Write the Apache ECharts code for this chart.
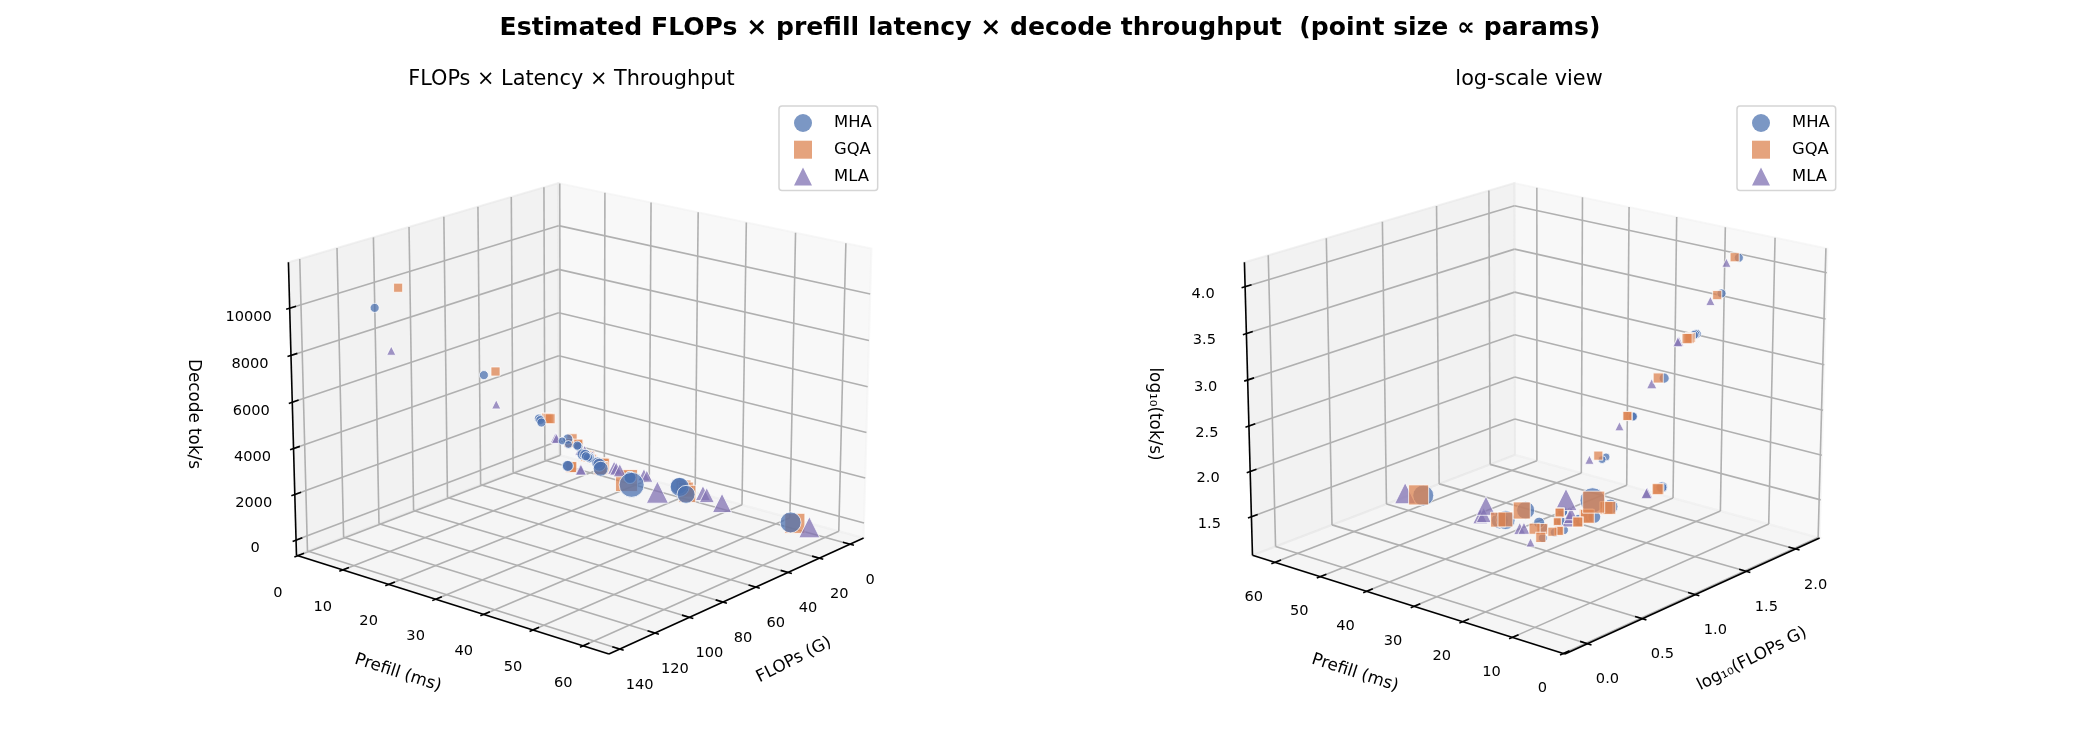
<!DOCTYPE html>
<html><head><meta charset="utf-8">
<style>html,body{margin:0;background:#fff}#c{width:2100px;height:750px}</style>
<script src="https://cdn.jsdelivr.net/npm/echarts@6/dist/echarts.min.js"></script>
</head><body><div id="c"></div>
<script>
// Axis ticks
const flopsTicks=[0,20,40,60,80,100,120,140];
const prefillTicks=[0,10,20,30,40,50,60];
const tokTicks=[0,2000,4000,6000,8000,10000];
const logFlopsTicks=[0,0.5,1,1.5,2];
const logTokTicks=[1.5,2,2.5,3,3.5,4];

// Measurements per attention variant: FLOPs (G), prefill (ms), decode tok/s, params (M)
const flopsMHA=[138.2,72.0,36.2,36.2,36.3,16.2,7.6,7.4,2.4,2.6,15.1,15.0,1.7,1.7,1.7,1.8,1.0,1.0,1.9,1.5,1.1,4.2,5.1,8.5,8.6,8.6,15.2,4.0,4.7,9.9,9.2];
const prefillMHA=[15.0,12.7,11.5,11.8,12.1,10.7,10.0,9.7,4.5,6.0,10.2,10.3,9.6,9.7,10.4,10.5,8.6,9.2,10.5,10.0,9.4,13.1,13.8,15.3,21.7,21.8,24.4,30.8,31.2,34.3,55.8];
const tokMHA=[10570,5900,2930,2880,2790,1400,770,790,580,500,98,97,155,152,116,113,140,154,90,97,101,78,69,66,37,37,43,39,36,29,21];
const paramsMHA=[17,17,17,17,17,21,17,17,13,13,25,25,21,21,21,21,25,25,17,17,17,30,35,46,30,30,129,60,75,67,91];

const flopsGQA=[125.4,65.2,31.5,30.8,30.2,15.2,6.7,6.5,2.4,15.2,15.1,1.7,1.7,1.8,1.8,1.1,1.0,1.8,1.8,1.5,1.1,4.4,4.7,7.7,8.1,7.6,7.6,12.6,4.3,5.5,9.1,9.0];
const prefillGQA=[15.0,12.7,11.5,11.6,11.8,11.3,9.8,9.6,6.0,11.0,11.1,10.2,10.3,11.2,11.3,9.5,10.1,10.9,11.0,10.5,9.8,14.0,14.4,15.2,15.1,20.8,20.9,22.4,31.9,32.8,34.3,56.6];
const tokGQA=[11100,5880,2830,2800,2780,1420,830,850,570,91,90,148,146,112,110,125,129,90,89,97,101,75,71,67,66,39,39,48,37,32,30,21];
const paramsGQA=[17,17,21,21,21,21,17,17,17,25,25,17,17,13,13,25,25,17,17,17,21,40,40,35,35,21,21,100,46,46,60,83];

const flopsMLA=[135.5,70.3,35.6,35.2,17.4,6.4,3.7,14.8,14.7,4.0,4.4,5.0,2.7,3.2,1.0,15.3,4.5,5.4,8.7,8.9];
const prefillMLA=[17.3,14.7,14.9,15.0,13.8,11.0,11.8,13.0,13.1,16.7,17.3,18.3,22.8,23.6,10.9,30.0,36.1,37.2,41.5,59.5];
const tokMLA=[8830,4670,2230,2200,1080,636,350,78,77,64,65,65,51,46,90,36,34,31,27,20];
const paramsMLA=[17,17,21,21,21,17,17,25,25,35,35,35,30,30,17,100,46,46,75,91];

const FONT='"DejaVu Sans"';
const chart=echarts.init(document.getElementById('c'));

// Perspective camera: maps a data triple to view-plane coordinates, which the hidden cartesian axes scale to pixels.
function makeView(cfg){
  const rad=Math.PI/180,e=cfg.elev*rad,a=cfg.azim*rad;
  const box=[1.1905,1.1905,0.8929],c=box.map(b=>b/2);
  const u=[-Math.sin(a),Math.cos(a),0];
  const v=[-Math.sin(e)*Math.cos(a),-Math.sin(e)*Math.sin(a),Math.cos(e)];
  const w=[Math.cos(e)*Math.cos(a),Math.cos(e)*Math.sin(a),Math.sin(e)];
  const dot=(p,q)=>p[0]*q[0]+p[1]*q[1]+p[2]*q[2];
  const project=(x,y,z)=>{
    const d=[(x-cfg.xlim[0])/(cfg.xlim[1]-cfg.xlim[0])*box[0]-c[0],
             (y-cfg.ylim[0])/(cfg.ylim[1]-cfg.ylim[0])*box[1]-c[1],
             (z-cfg.zlim[0])/(cfg.zlim[1]-cfg.zlim[0])*box[2]-c[2]];
    const den=10-dot(w,d);
    return [dot(u,d)/den,dot(v,d)/den];
  };
  return Object.assign({project,
    backX:Math.cos(a)>0?cfg.xlim[0]:cfg.xlim[1],frontX:Math.cos(a)>0?cfg.xlim[1]:cfg.xlim[0],
    backY:Math.sin(a)>0?cfg.ylim[0]:cfg.ylim[1],frontY:Math.sin(a)>0?cfg.ylim[1]:cfg.ylim[0]},cfg);
}

// Panes, grid lines, axis lines and tick labels of one 3D box, as 2D primitives on a hidden cartesian grid.
function frameSeries(view,idx){
  const P=view.project,[x0,x1]=view.xlim,[y0,y1]=view.ylim,[z0,z1]=view.zlim;
  const bx=view.backX,fx=view.frontX,by=view.backY,fy=view.frontY;
  const dx=x1-x0,dy=y1-y0;
  const panes=[
    {pts:[[x0,y0,z0],[x1,y0,z0],[x1,y1,z0],[x0,y1,z0]],c:'rgba(236,236,236,0.5)'},
    {pts:[[bx,y0,z0],[bx,y1,z0],[bx,y1,z1],[bx,y0,z1]],c:'rgba(242,242,242,0.5)'},
    {pts:[[x0,by,z0],[x1,by,z0],[x1,by,z1],[x0,by,z1]],c:'rgba(230,230,230,0.5)'}
  ].map(p=>({pts:p.pts.map(q=>P(...q)),c:p.c}));
  const grid=[];
  const seg=(list,a,b)=>list.push([...P(...a),...P(...b)]);
  view.xticks.forEach(t=>{seg(grid,[t,fy,z0],[t,by,z0]);seg(grid,[t,by,z0],[t,by,z1]);});
  view.yticks.forEach(t=>{seg(grid,[fx,t,z0],[bx,t,z0]);seg(grid,[bx,t,z0],[bx,t,z1]);});
  view.zticks.forEach(t=>{seg(grid,[fx,by,t],[bx,by,t]);seg(grid,[bx,by,t],[bx,fy,t]);});
  const axes=[];
  seg(axes,[x0,fy,z0],[x1,fy,z0]);seg(axes,[fx,y0,z0],[fx,y1,z0]);seg(axes,[fx,by,z0],[fx,by,z1]);
  const sy=Math.sign(fy-by),sx=Math.sign(fx-bx),OUT=0.012,IN=0.022;
  const texts=[];
  view.xticks.forEach(t=>{seg(axes,[t,fy+sy*OUT*dy,z0],[t,fy-sy*IN*dy,z0]);
    texts.push({p:P(t,fy,z0),s:view.xfmt(t),o:view.xoff});});
  view.yticks.forEach(t=>{seg(axes,[fx+sx*OUT*dx,t,z0],[fx-sx*IN*dx,t,z0]);
    texts.push({p:P(fx,t,z0),s:String(t),o:view.yoff});});
  view.zticks.forEach(t=>{seg(axes,[fx+sx*OUT*dx,by,t],[fx-sx*IN*dx,by,t]);
    texts.push({p:P(fx,by,t),s:view.zfmt(t),o:view.zoff});});
  const base={type:'custom',coordinateSystem:'cartesian2d',xAxisIndex:idx,yAxisIndex:idx,silent:true,clip:false,animation:false};
  const lineItem=(color,lw)=>(params,api)=>{
    const a=api.coord([api.value(0),api.value(1)]),b=api.coord([api.value(2),api.value(3)]);
    return {type:'line',shape:{x1:a[0],y1:a[1],x2:b[0],y2:b[1]},style:{stroke:color,lineWidth:lw,fill:null}};
  };
  return [
    Object.assign({},base,{z:1,data:panes.map(p=>p.pts[0]),renderItem:(params,api)=>{
      const p=panes[params.dataIndex];
      return {type:'polygon',shape:{points:p.pts.map(q=>api.coord(q))},style:{fill:p.c,stroke:p.c,lineWidth:2}};
    }}),
    Object.assign({},base,{z:2,data:grid,renderItem:lineItem('#b0b0b0',1.6)}),
    Object.assign({},base,{z:3,data:axes,renderItem:lineItem('#000',1.6)}),
    Object.assign({},base,{z:4,data:texts.map(t=>t.p),renderItem:(params,api)=>{
      const t=texts[params.dataIndex],c=api.coord(t.p);
      return {type:'text',style:{text:t.s,x:c[0]+t.o[0],y:c[1]+t.o[1],fill:'#000',font:'14.6px '+FONT,align:'center',verticalAlign:'middle'}};
    }})
  ];
}

const views=[
  makeView({elev:18,azim:40,cx:582,cy:403,xlim:[-9,146],ylim:[-0.3,65],zlim:[-670,11930],
    xticks:flopsTicks,yticks:prefillTicks,zticks:tokTicks,xfmt:String,zfmt:String,
    xoff:[20,36],yoff:[-20,37],zoff:[-41,8.5]}),
  makeView({elev:18,azim:220,cx:1538,cy:403,xlim:[-0.2,2.25],ylim:[-0.3,65],zlim:[1.07,4.26],
    xticks:logFlopsTicks,yticks:prefillTicks,zticks:logTokTicks,xfmt:t=>t.toFixed(1),zfmt:t=>t.toFixed(1),
    xoff:[20,36],yoff:[-21,35],zoff:[-42,7]})
];
const SCALE=3428,HALF=0.1;
const grids=views.map(v=>({left:v.cx-HALF*SCALE,top:v.cy-HALF*SCALE,width:2*HALF*SCALE,height:2*HALF*SCALE,show:false}));
const hidden=i=>({type:'value',min:-HALF,max:HALF,show:false,gridIndex:i,scale:true});

const variants=[
  {name:'MHA',symbol:'circle',color:'#4c72b0',flops:flopsMHA,prefill:prefillMHA,tok:tokMHA,params:paramsMHA,order:[12,10]},
  {name:'GQA',symbol:'rect',color:'#dd8452',flops:flopsGQA,prefill:prefillGQA,tok:tokGQA,params:paramsGQA,order:[10,12]},
  {name:'MLA',symbol:'triangle',color:'#8172b3',flops:flopsMLA,prefill:prefillMLA,tok:tokMLA,params:paramsMLA,order:[11,11]}
];
const linear=v=>v,log10=v=>Math.log10(v);

const series=[];
views.forEach((v,i)=>series.push(...frameSeries(v,i)));
views.forEach((view,i)=>{
  const tx=i?log10:linear;
  variants.forEach(s=>series.push({
    type:'scatter',name:s.name,xAxisIndex:i,yAxisIndex:i,z:s.order[i],clip:false,silent:true,
    symbol:s.symbol,
    data:s.flops.map((f,k)=>view.project(tx(f),s.prefill[k],tx(s.tok[k]))),
    symbolSize:(d,p)=>2.2*Math.sqrt(s.params[p.dataIndex]),
    itemStyle:{color:s.color,opacity:.75,borderColor:'#fff',borderWidth:1}
  }));
});

const legendOf=left=>({left,top:106,orient:'vertical',selectedMode:false,itemWidth:18,itemHeight:18,itemGap:8.7,padding:[8,6,5,15],
  borderColor:'#d5d5d5',borderWidth:1.5,borderRadius:3,backgroundColor:'#fff',
  textStyle:{fontFamily:FONT,fontSize:16.4,color:'#000',padding:[0,0,0,17]},
  data:[{name:'MHA',icon:'circle',itemStyle:{color:'#7b97c4',opacity:1,borderWidth:0}},
        {name:'GQA',icon:'rect',itemStyle:{color:'#e5a37d',opacity:1,borderWidth:0}},
        {name:'MLA',icon:'triangle',itemStyle:{color:'#a095c6',opacity:1,borderWidth:0}}]});

const axisName=(text,x,y,rot)=>({type:'text',x,y,rotation:rot*Math.PI/180,style:{text,font:'16.8px '+FONT,fill:'#000',align:'center',verticalAlign:'middle'},z:20});

chart.setOption({animation:false,backgroundColor:'#fff',
  title:[
    {text:'Estimated FLOPs × prefill latency × decode throughput  (point size ∝ params)',left:1050,top:28.5,textAlign:'center',textVerticalAlign:'middle',padding:0,textStyle:{fontFamily:FONT,fontWeight:'bold',fontSize:25.1,color:'#000'}},
    {text:'FLOPs × Latency × Throughput',left:571.5,top:79.5,textAlign:'center',textVerticalAlign:'middle',padding:0,textStyle:{fontFamily:FONT,fontWeight:'normal',fontSize:20.8,color:'#000'}},
    {text:'log-scale view',left:1529,top:79.5,textAlign:'center',textVerticalAlign:'middle',padding:0,textStyle:{fontFamily:FONT,fontWeight:'normal',fontSize:20.8,color:'#000'}}
  ],
  legend:[legendOf(779),legendOf(1737)],
  grid:grids,xAxis:[hidden(0),hidden(1)],yAxis:[hidden(0),hidden(1)],series,
  graphic:{elements:[
    axisName('Decode tok/s',193,414,-90),axisName('Prefill (ms)',398,673,-18),axisName('FLOPs (G)',794,660,27),
    axisName('log₁₀(tok/s)',1154,414,-90),axisName('Prefill (ms)',1355,673,-18),axisName('log₁₀(FLOPs G)',1752,659,27)
  ]}
});
</script></body></html>
